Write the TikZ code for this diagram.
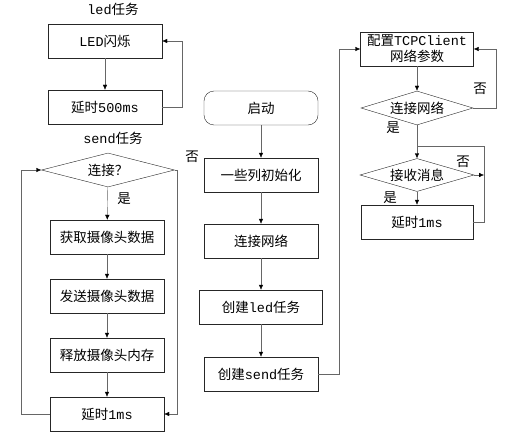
\documentclass[tikz,border=0pt]{standalone}
\usepackage{fontspec}
\setmainfont{Noto Sans CJK SC}
\newfontfamily\mono{Liberation Mono}
\usetikzlibrary{arrows.meta,shapes.geometric}

\begin{document}
\begin{tikzpicture}[x=1pt, y=-1pt,
  every node/.style={font=\fontsize{13.5}{16}\selectfont},
  box/.style={draw=black!85, minimum width=114pt, minimum height=34pt, inner sep=0pt},
  cond/.style={diamond, draw=black!85, inner sep=0pt, aspect=4},
  line/.style={draw=black!60},
  arr/.style={line, -{Latex[length=5pt,width=4.5pt,color=black]}}]
\useasboundingbox (0,0) rectangle (518,433);
% led task
\node (ledlbl) at (113,9) {{\mono led}任务};
\node[box] (led) at (105,41) {{\mono LED}闪烁};
\node[box] (wait500) at (105,107) {延时{\mono 500ms}};
% send task
\node (sendlbl) at (113,138) {{\mono send}任务};
\node[cond, minimum width=133pt, minimum height=34pt] (conn) at (108,170) {连接？};
\node[box] (grab) at (107,237) {获取摄像头数据};
\node[box] (sendimg) at (107,296) {发送摄像头数据};
\node[box] (freeimg) at (107,355) {释放摄像头内存};
\node[box] (wait1) at (107,414) {延时{\mono 1ms}};
\node (yes1) at (124,199) {是};
\node (no1) at (192,157) {否};
\coordinate (connR) at (177,170);
% main
\node[box, rounded corners=10pt] (start) at (261,108) {启动};
\node[box] (init) at (261,175) {一些列初始化};
\node[box] (net) at (261,241) {连接网络};
\node[box, minimum width=123pt] (mkled) at (261,307) {创建{\mono led}任务};
\node[box] (mksend) at (261,374) {创建{\mono send}任务};
% network
\node[box, align=center, minimum width=113pt] (cfg) at (417,49) {配置{\mono TCPClient}\\网络参数};
\node[cond, minimum width=112pt, minimum height=34pt] (netq) at (417,108) {连接网络};
\node[cond, minimum width=114pt, minimum height=33pt] (recvq) at (417,175) {接收消息};
\node[box, minimum width=112pt] (wait1b) at (417,222) {延时{\mono 1ms}};
\node (no2) at (480,89) {否};
\node (yes2) at (393,128) {是};
\node (no3) at (463,162) {否};
\node (yes3) at (390,198) {是};
\coordinate (rjoin) at (484,175);
\coordinate (rtop) at (417,146);

\draw[arr] (led) -- (wait500);
\draw[arr] (wait500.east) -- ++(20,0) |- (led.east);
\draw[arr] (conn) -- (grab);
\draw[arr] (grab) -- (sendimg);
\draw[arr] (sendimg) -- (freeimg);
\draw[arr] (freeimg) -- (wait1);
\draw[arr] (conn.east) -- (connR) |- (wait1.east);
\draw[arr] (wait1.west) -- ++(-29,0) |- (conn.west);
\foreach \u/\v in {start/init,init/net,net/mkled,mkled/mksend} \draw[arr] (\u) -- (\v);
\draw[arr] (mksend.east) -- ++(21,0) |- (cfg.west);
\draw[arr] (cfg) -- (netq);
\draw[arr] (netq.east) -- ++(23,0) |- (cfg.east);
\draw[arr] (netq) -- (recvq);
\draw[arr] (recvq) -- (wait1b);
\draw[arr] (recvq.east) -- (rjoin);
\draw[line] (wait1b.east) -| (rjoin) |- (rtop);
\end{tikzpicture}
\end{document}
